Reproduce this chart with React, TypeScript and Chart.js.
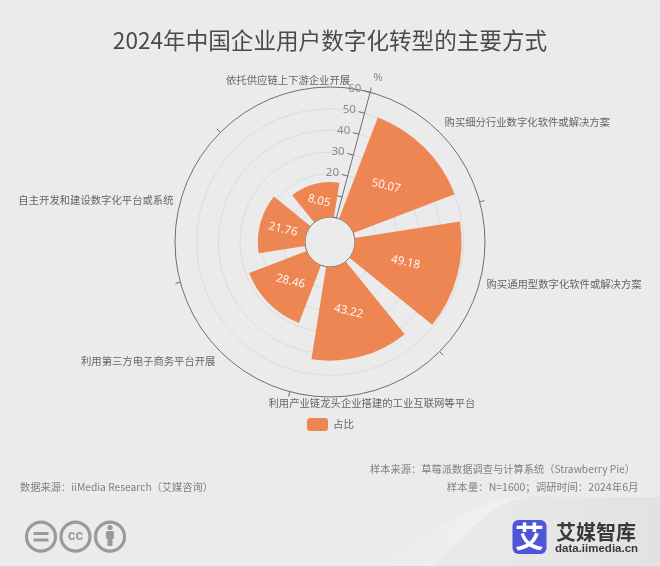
import React, { useEffect, useRef } from "react";
import { Chart, registerables } from "chart.js";

Chart.register(...registerables);

const categories = [
  "购买细分行业数字化软件或解决方案",
  "购买通用型数字化软件或解决方案",
  "利用产业链龙头企业搭建的工业互联网等平台",
  "利用第三方电子商务平台开展",
  "自主开发和建设数字化平台或系统",
  "依托供应链上下游企业开展",
];
// Bar lengths as read against the radial axis (the last bar reaches about 16 on the axis in the reference).
const barLengths = [50.07, 49.18, 43.22, 28.46, 21.76, 16.2];
// Values as printed on the bars in the reference.
const printedValues = ["50.07", "49.18", "43.22", "28.46", "21.76", "8.05"];
const seriesName = "占比";
const axisUnit = "%";
const axisMax = 60;
const axisStep = 10;
const titleText = "2024年中国企业用户数字化转型的主要方式";
const sourceLeft = "数据来源：iiMedia Research（艾媒咨询）";
const sourceRight1 = "样本来源：草莓派数据调查与计算系统（Strawberry Pie）";
const sourceRight2 = "样本量：N=1600；调研时间：2024年6月";

const FONT = '"Noto Sans CJK SC", "Noto Sans", sans-serif';
const BAR = "#ee8653";
const AXIS = "#6b6f76";
const startDeg = 15;
const holeRadius = 25;
const outerRadius = 155;
const axisMin = (-holeRadius / (outerRadius - holeRadius)) * axisMax;
const gapDeg = 6;
const rad = (d: number) => (d * Math.PI) / 180;

const polarBarPlugin = {
  id: "polarBar",
  afterDatasetsUpdate(chart: any) {
    const meta = chart.getDatasetMeta(0);
    const inner = chart.scales.r.getDistanceFromCenterForValue(0);
    meta.data.forEach((el: any) => {
      el.innerRadius = inner;
      el.startAngle += rad(gapDeg);
      el.endAngle -= rad(gapDeg);
    });
  },
  beforeDraw(chart: any) {
    const { ctx, width, height } = chart;
    ctx.save();
    ctx.fillStyle = "#ebebeb";
    ctx.fillRect(0, 0, width, height);
    const w = ctx.createLinearGradient(370, 0, 510, 0);
    w.addColorStop(0, "rgba(241,241,241,0)");
    w.addColorStop(1, "rgba(241,241,241,1)");
    ctx.fillStyle = w;
    ctx.beginPath();
    ctx.moveTo(370, 566);
    ctx.bezierCurveTo(430, 540, 470, 500, 520, 497);
    ctx.lineTo(520, 566);
    ctx.closePath();
    ctx.fill();
    const g = ctx.createLinearGradient(460, 0, 660, 0);
    g.addColorStop(0, "#e9e9e9");
    g.addColorStop(1, "#e2e2e2");
    ctx.fillStyle = g;
    ctx.beginPath();
    ctx.moveTo(432, 566);
    ctx.bezierCurveTo(465, 540, 490, 498, 530, 497);
    ctx.lineTo(660, 497);
    ctx.lineTo(660, 566);
    ctx.closePath();
    ctx.fill();

    ctx.textBaseline = "middle";
    ctx.fillStyle = "#4a4a4a";
    ctx.textAlign = "center";
    ctx.font = `22.6px ${FONT}`;
    ctx.fillText(titleText, 330, 40);

    ctx.fillStyle = "#808080";
    ctx.font = `10.25px ${FONT}`;
    ctx.textAlign = "left";
    ctx.fillText(sourceLeft, 20, 487);
    ctx.textAlign = "right";
    ctx.fillText(sourceRight1, 635, 469);
    ctx.font = `10.5px ${FONT}`;
    ctx.fillText(sourceRight2, 638.5, 487);

    // legend
    ctx.fillStyle = BAR;
    ctx.beginPath();
    ctx.roundRect(307, 418, 21, 13, 3);
    ctx.fill();
    ctx.fillStyle = "#666";
    ctx.textAlign = "left";
    ctx.fillText(seriesName, 333, 424.5);

    // licence icons
    ctx.strokeStyle = "#9a9a9a";
    ctx.fillStyle = "#9a9a9a";
    ctx.lineWidth = 3.2;
    [41, 75.5, 110].forEach((x) => {
      ctx.beginPath();
      ctx.arc(x, 536.7, 14.5, 0, Math.PI * 2);
      ctx.stroke();
    });
    ctx.fillRect(33.5, 532, 15, 3);
    ctx.fillRect(33.5, 538.5, 15, 3);
    ctx.textAlign = "center";
    ctx.font = `bold 14px "Liberation Sans", sans-serif`;
    ctx.fillText("cc", 75.5, 536);
    ctx.beginPath();
    ctx.arc(110, 527.5, 2.6, 0, Math.PI * 2);
    ctx.fill();
    ctx.beginPath();
    ctx.roundRect(106, 531, 8, 8, 1.5);
    ctx.fill();
    ctx.fillRect(107.5, 538, 5, 8);

    // brand
    ctx.fillStyle = "#4d55d8";
    ctx.beginPath();
    ctx.roundRect(512.5, 520, 34, 34, 6);
    ctx.fill();
    ctx.fillStyle = "#ffffff";
    ctx.font = `bold 29px ${FONT}`;
    ctx.fillText("艾", 529.5, 536.5);
    ctx.fillStyle = "#3a3a3a";
    ctx.textAlign = "left";
    ctx.font = `bold 20px ${FONT}`;
    ctx.fillText("艾媒智库", 556, 532);
    ctx.font = `bold 11.5px "Liberation Sans", sans-serif`;
    ctx.fillText("data.iimedia.cn", 555, 549);
    ctx.restore();
  },
  beforeDatasetsDraw(chart: any) {
    const { ctx } = chart;
    const s = chart.scales.r;
    const a = rad(startDeg);
    ctx.save();
    ctx.strokeStyle = AXIS;
    ctx.lineWidth = 1;
    ctx.font = `11.5px "Noto Sans", sans-serif`;
    ctx.fillStyle = "#8a8a8a";
    ctx.textAlign = "right";
    ctx.textBaseline = "middle";
    // radial axis line
    ctx.beginPath();
    ctx.moveTo(s.xCenter + holeRadius * Math.sin(a), s.yCenter - holeRadius * Math.cos(a));
    ctx.lineTo(s.xCenter + outerRadius * Math.sin(a), s.yCenter - outerRadius * Math.cos(a));
    ctx.stroke();
    // ticks and their labels
    s.ticks.forEach((t: any) => {
      const r = s.getDistanceFromCenterForValue(t.value);
      const x = s.xCenter + r * Math.sin(a);
      const y = s.yCenter - r * Math.cos(a);
      ctx.beginPath();
      ctx.moveTo(x, y);
      ctx.lineTo(x - 6 * Math.cos(a), y - 6 * Math.sin(a));
      ctx.stroke();
      ctx.fillText(String(t.value), x - 9 * Math.cos(a), y - 9 * Math.sin(a) - 1);
    });
    ctx.textAlign = "center";
    ctx.fillText(axisUnit, 378, 78);
    // spokes' outer ticks
    categories.forEach((_, i) => {
      const b = rad(startDeg + (i * 360) / categories.length);
      ctx.beginPath();
      ctx.moveTo(s.xCenter + outerRadius * Math.sin(b), s.yCenter - outerRadius * Math.cos(b));
      ctx.lineTo(s.xCenter + (outerRadius + 5) * Math.sin(b), s.yCenter - (outerRadius + 5) * Math.cos(b));
      ctx.stroke();
    });
    // category labels
    ctx.font = `10.35px ${FONT}`;
    ctx.fillStyle = "#666666";
    categories.forEach((label, i) => {
      const mid = rad(startDeg + ((i + 0.5) * 360) / categories.length);
      const sx = Math.sin(mid);
      const cy = Math.cos(mid);
      const lr = outerRadius + 7;
      const lift = Math.abs(cy) > 0.5 ? Math.sign(cy) * 5 : 0;
      ctx.textAlign = sx > 0.3 ? "left" : sx < -0.3 ? "right" : "center";
      ctx.fillText(label, s.xCenter + lr * sx, s.yCenter - lr * cy - lift);
    });
    ctx.restore();
  },
  afterDatasetsDraw(chart: any) {
    const { ctx } = chart;
    const meta = chart.getDatasetMeta(0);
    ctx.save();
    ctx.font = `11.5px "Noto Sans", sans-serif`;
    ctx.fillStyle = "#fff6ef";
    ctx.textAlign = "center";
    ctx.textBaseline = "middle";
    meta.data.forEach((el: any, i: number) => {
      const p = el.getCenterPoint();
      ctx.save();
      ctx.translate(p.x, p.y);
      ctx.rotate(rad(startDeg - 2));
      ctx.fillText(printedValues[i], 0, 0);
      ctx.restore();
    });
    ctx.restore();
  },
};

export default function App() {
  const ref = useRef<HTMLCanvasElement>(null);
  useEffect(() => {
    const chart = new Chart(ref.current as HTMLCanvasElement, {
      type: "polarArea",
      data: {
        labels: categories,
        datasets: [
          {
            label: seriesName,
            data: barLengths,
            backgroundColor: BAR,
            borderWidth: 0,
          },
        ],
      },
      options: {
        animation: false,
        responsive: false,
        devicePixelRatio: 1,
        layout: { padding: { left: 175, right: 175, top: 87, bottom: 169 } },
        plugins: { legend: { display: false }, title: { display: false }, tooltip: { enabled: false } },
        scales: {
          r: {
            type: "radialLinear",
            min: axisMin,
            max: axisMax,
            startAngle: startDeg,
            afterBuildTicks: (s: any) => {
              s.ticks = s.ticks.filter((t: any) => t.value >= 0);
            },
            ticks: { display: false, stepSize: axisStep },
            pointLabels: { display: false },
            angleLines: { display: false },
            grid: {
              circular: true,
              lineWidth: 1,
              color: (c: any) =>
                c.tick && (c.tick.value === 0 || c.tick.value === axisMax) ? AXIS : "#dcdcdc",
            },
          },
        },
      } as any,
      plugins: [polarBarPlugin],
    } as any);
    return () => chart.destroy();
  }, []);
  return (
    <div style={{ position: "fixed", left: 0, top: 0, width: 660, height: 566 }}>
      <canvas ref={ref} width={660} height={566} style={{ display: "block" }} />
    </div>
  );
}
